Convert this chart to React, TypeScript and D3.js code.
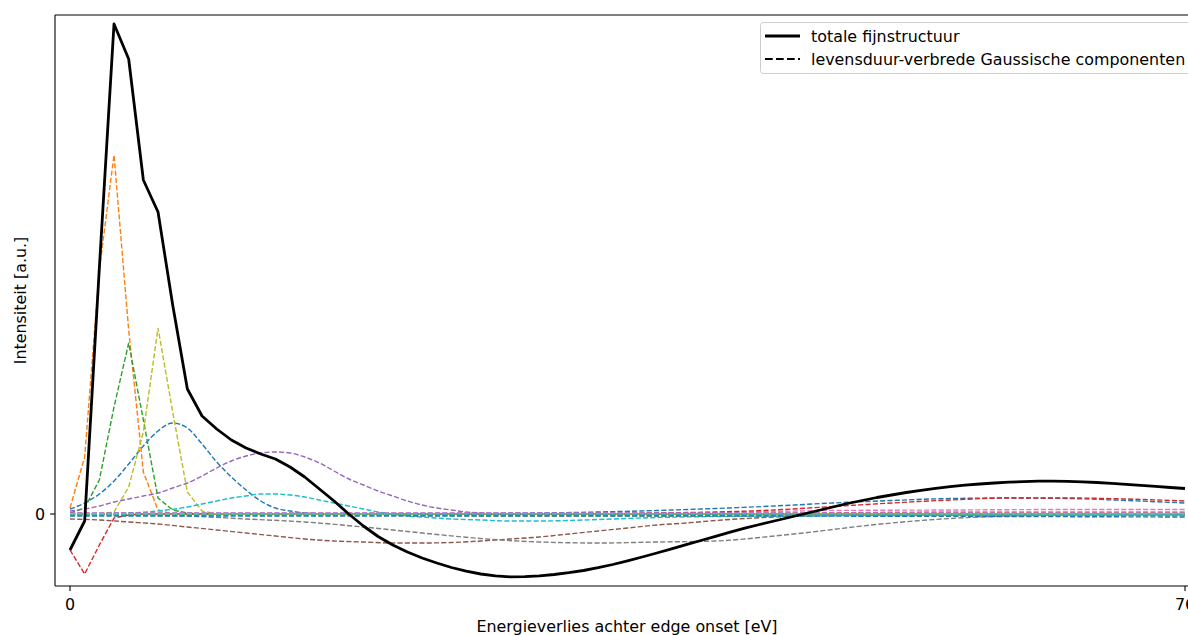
import React, { useEffect, useRef } from "react";
import * as d3 from "d3";

// energy grid of the total curve (eV, 1 eV steps)
const energy = d3.range(0, 77);

// totale fijnstructuur
const total = [
  -0.36, -0.07, 2.46, 4.9, 4.55, 3.34, 3.02, 2.09, 1.25, 0.98,
  0.85, 0.74, 0.66, 0.6, 0.55, 0.47, 0.37, 0.25, 0.13, 0.0,
  -0.12, -0.225, -0.31, -0.38, -0.44, -0.49, -0.535, -0.572, -0.6, -0.619,
  -0.628, -0.627, -0.619, -0.605, -0.587, -0.565, -0.537, -0.505, -0.468, -0.43,
  -0.39, -0.349, -0.307, -0.265, -0.223, -0.182, -0.142, -0.105, -0.07, -0.035,
  0.0, 0.035, 0.07, 0.105, 0.135, 0.165, 0.19, 0.215, 0.237, 0.257,
  0.274, 0.288, 0.3, 0.31, 0.318, 0.324, 0.328, 0.329, 0.327, 0.322,
  0.315, 0.307, 0.297, 0.287, 0.276, 0.265, 0.255,
];

// Gaussian components, [eV, intensity]
const compBlue1 = [[0, 0.05], [1, 0.11], [2, 0.2], [3, 0.33], [4, 0.5], [5, 0.68], [6, 0.83], [7, 0.91], [8, 0.86], [9, 0.7], [10, 0.52], [11, 0.37], [12, 0.24], [13, 0.13], [14, 0.06], [15, 0.03], [16, 0.01], [18, 0], [76, 0]];
const compOrange1 = [[0, 0.06], [1, 0.57], [2, 2.44], [3, 3.59], [4, 1.84], [5, 0.42], [6, 0.04], [7, 0], [76, 0]];
const compGreen1 = [[0, 0.01], [1, 0.06], [2, 0.34], [3, 1.07], [4, 1.71], [5, 0.94], [6, 0.16], [7, 0.04], [8, 0.01], [9, 0], [76, 0]];
const compRed1 = [[0, -0.36], [1, -0.6], [2, -0.31], [3, -0.04], [4, -0.01], [5, 0], [76, 0]];
const compPurple1 = [[0, 0.03], [1, 0.05], [2, 0.08], [3, 0.12], [4, 0.15], [5, 0.18], [6, 0.21], [7, 0.26], [8, 0.31], [9, 0.38], [10, 0.46], [11, 0.53], [12, 0.58], [13, 0.61], [14, 0.62], [15, 0.61], [16, 0.57], [17, 0.51], [18, 0.43], [19, 0.35], [20, 0.29], [21, 0.23], [22, 0.18], [23, 0.13], [24, 0.09], [25, 0.06], [26, 0.04], [27, 0.02], [28, 0.01], [30, 0], [76, 0]];
const compBrown1 = [[0, -0.05], [2, -0.06], [4, -0.08], [6, -0.1], [8, -0.13], [10, -0.16], [12, -0.19], [14, -0.22], [16, -0.25], [18, -0.27], [20, -0.28], [22, -0.29], [24, -0.29], [26, -0.285], [28, -0.27], [30, -0.25], [32, -0.23], [34, -0.2], [36, -0.17], [38, -0.14], [40, -0.11], [42, -0.09], [44, -0.065], [46, -0.045], [48, -0.03], [50, -0.02], [54, -0.01], [60, 0], [76, 0]];
const compPink1 = [[0, 0], [30, 0], [40, 0.01], [46, 0.02], [52, 0.035], [60, 0.04], [68, 0.045], [76, 0.045]];
const compGray1 = [[0, 0.01], [4, -0.01], [8, -0.02], [12, -0.05], [16, -0.08], [20, -0.13], [24, -0.19], [28, -0.245], [32, -0.28], [36, -0.29], [40, -0.28], [44, -0.27], [46, -0.25], [48, -0.22], [50, -0.19], [52, -0.155], [54, -0.12], [56, -0.09], [58, -0.065], [60, -0.045], [64, -0.02], [68, -0.01], [72, 0], [76, 0]];
const compOlive1 = [[0, 0], [2, 0], [3, 0.02], [4, 0.27], [5, 0.82], [6, 1.86], [7, 1.02], [8, 0.22], [9, 0.03], [10, 0], [76, 0]];
const compCyan1 = [[0, 0], [4, 0.01], [6, 0.03], [8, 0.07], [9, 0.1], [10, 0.13], [11, 0.16], [12, 0.18], [13, 0.2], [14, 0.2], [15, 0.19], [16, 0.17], [17, 0.14], [18, 0.11], [19, 0.08], [20, 0.05], [21, 0.02], [22, 0], [23, -0.02], [24, -0.03], [26, -0.05], [28, -0.06], [30, -0.07], [32, -0.07], [34, -0.065], [36, -0.055], [38, -0.045], [40, -0.035], [44, -0.025], [48, -0.02], [56, -0.015], [76, -0.01]];
const compBlue2 = [[0, 0], [20, 0], [28, 0.005], [32, 0.01], [36, 0.02], [40, 0.035], [44, 0.055], [48, 0.08], [52, 0.11], [56, 0.135], [60, 0.155], [64, 0.16], [68, 0.155], [72, 0.135], [76, 0.11]];
const compOrange2 = [[0, 0], [40, 0], [50, 0.01], [60, 0.02], [76, 0.02]];
const compGreen2 = [[0, 0], [40, -0.01], [76, -0.015]];
const compRed2 = [[0, 0], [36, 0], [40, 0.01], [44, 0.02], [48, 0.04], [52, 0.075], [56, 0.11], [60, 0.14], [64, 0.16], [68, 0.16], [72, 0.15], [76, 0.13]];
const compPurple2 = [[0, 0.01], [76, 0.01]];
const compBrown2 = [[0, 0], [76, 0]];
const compPink2 = [[0, 0.005], [76, 0.005]];
const compGray2 = [[0, -0.005], [76, -0.005]];
const compOlive2 = [[0, 0], [20, -0.01], [30, -0.02], [40, -0.02], [50, -0.015], [60, -0.005], [76, 0]];
const compCyan2 = [[0, -0.01], [76, -0.01]];
const compBlue3 = [[0, -0.02], [40, -0.02], [76, -0.03]];

const components = [
  compBlue1, compOrange1, compGreen1, compRed1, compPurple1, compBrown1, compPink1,
  compGray1, compOlive1, compCyan1, compBlue2, compOrange2, compGreen2, compRed2,
  compPurple2, compBrown2, compPink2, compGray2, compOlive2, compCyan2, compBlue3,
];

const xTicks = [0, 76];
const yTicks = [0];
const legendLabels = ["totale fijnstructuur", "levensduur-verbrede Gaussische componenten"];

const W = 1188;
const H = 635;
const FONT = "DejaVu Sans, sans-serif";
const FS = "15.9px";

const App = () => {
  const svgRef = useRef<SVGSVGElement | null>(null);

  useEffect(() => {
    const svg = d3.select(svgRef.current);
    svg.selectAll("*").remove();

    const left = 55, right = 1199, top = 15, bottom = 586;

    const x = d3.scaleLinear().domain([0, 76]).range([70, 1185]);
    const y = d3.scaleLinear().domain([-0.72, 4.99]).range([bottom, top]);

    svg.append("defs").append("clipPath").attr("id", "plot-clip")
      .append("rect")
      .attr("x", left).attr("y", top)
      .attr("width", right - left).attr("height", bottom - top);

    const plot = svg.append("g").attr("clip-path", "url(#plot-clip)");

    // sharp components are drawn straight between 1 eV samples
    const sharp = new Set([1, 2, 3, 8]);
    const colors = d3.schemeCategory10;

    components.forEach((comp, i) => {
      const line = d3.line<number[]>()
        .x((d) => x(d[0]))
        .y((d) => y(d[1]))
        .curve(sharp.has(i) ? d3.curveLinear : d3.curveMonotoneX);
      plot.append("path")
        .datum(comp)
        .attr("d", line)
        .attr("fill", "none")
        .attr("stroke", colors[i % 10])
        .attr("stroke-width", 1.4)
        .attr("stroke-dasharray", "5.1,2.2");
    });

    const totalLine = d3.line<number>()
      .x((d, i) => x(energy[i]))
      .y((d) => y(d));
    plot.append("path")
      .datum(total)
      .attr("d", totalLine)
      .attr("fill", "none")
      .attr("stroke", "#000")
      .attr("stroke-width", 2.8)
      .attr("stroke-linejoin", "round");

    // spines
    const spine = svg.append("g").attr("stroke", "#000").attr("stroke-width", 1.1);
    spine.append("line").attr("x1", left).attr("x2", left).attr("y1", top).attr("y2", bottom);
    spine.append("line").attr("x1", left).attr("x2", right).attr("y1", bottom).attr("y2", bottom);
    spine.append("line").attr("x1", left).attr("x2", right).attr("y1", top).attr("y2", top);
    spine.append("line").attr("x1", right).attr("x2", right).attr("y1", top).attr("y2", bottom);

    // x ticks
    xTicks.forEach((t) => {
      svg.append("line")
        .attr("x1", x(t)).attr("x2", x(t))
        .attr("y1", bottom).attr("y2", bottom + 4.9)
        .attr("stroke", "#000").attr("stroke-width", 1.1);
      svg.append("text")
        .attr("x", x(t)).attr("y", 610)
        .attr("text-anchor", "middle")
        .style("font-family", FONT).style("font-size", FS)
        .text(t);
    });

    // y ticks
    yTicks.forEach((t) => {
      svg.append("line")
        .attr("x1", left - 4.9).attr("x2", left)
        .attr("y1", y(t)).attr("y2", y(t))
        .attr("stroke", "#000").attr("stroke-width", 1.1);
      svg.append("text")
        .attr("x", left - 10).attr("y", y(t) + 6)
        .attr("text-anchor", "end")
        .style("font-family", FONT).style("font-size", FS)
        .text(t);
    });

    svg.append("text")
      .attr("x", (left + right) / 2).attr("y", 632)
      .attr("text-anchor", "middle")
      .style("font-family", FONT).style("font-size", FS)
      .text("Energieverlies achter edge onset [eV]");

    svg.append("text")
      .attr("transform", `translate(26,${(top + bottom) / 2}) rotate(-90)`)
      .attr("text-anchor", "middle")
      .style("font-family", FONT).style("font-size", FS)
      .text("Intensiteit [a.u.]");

    // legend
    const lg = svg.append("g");
    lg.append("rect")
      .attr("x", 760.5).attr("y", 22.5)
      .attr("width", 440).attr("height", 51)
      .attr("rx", 3)
      .attr("fill", "#fff").attr("fill-opacity", 0.8)
      .attr("stroke", "#ccc").attr("stroke-width", 1);
    const rows = [36, 59];
    lg.append("line")
      .attr("x1", 765).attr("x2", 800).attr("y1", rows[0]).attr("y2", rows[0])
      .attr("stroke", "#000").attr("stroke-width", 2.8);
    lg.append("line")
      .attr("x1", 765).attr("x2", 800).attr("y1", rows[1]).attr("y2", rows[1])
      .attr("stroke", "#000").attr("stroke-width", 2.1)
      .attr("stroke-dasharray", "7.7,3.3");
    legendLabels.forEach((label, i) => {
      lg.append("text")
        .attr("x", 811).attr("y", rows[i] + 5.5)
        .style("font-family", FONT).style("font-size", FS)
        .text(label);
    });
  }, []);

  return (
    <svg
      ref={svgRef}
      width={W}
      height={H}
      style={{ position: "absolute", left: 0, top: 0, background: "#fff" }}
    ></svg>
  );
};

export default App;
